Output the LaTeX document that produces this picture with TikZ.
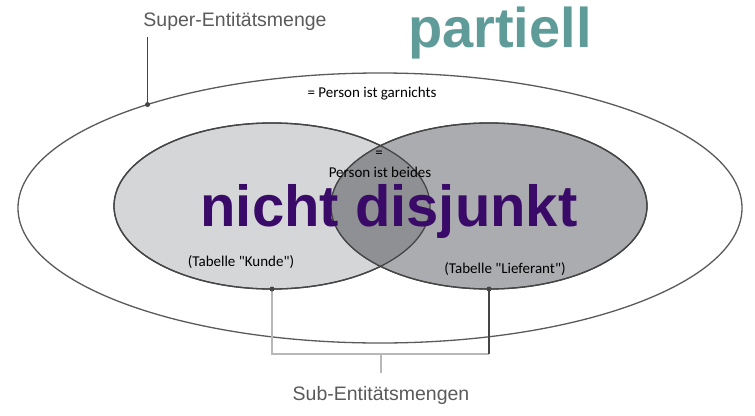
\documentclass[tikz,border=0pt]{standalone}
\usepackage{fontspec}
\setmainfont{Carlito}
\newfontfamily\arialfont{Liberation Sans}
\usetikzlibrary{shapes.geometric,positioning}

\definecolor{kundegray}{HTML}{D5D6D8}
\definecolor{liefergray}{HTML}{ABACAF}
\definecolor{beidegray}{HTML}{8F9094}
\definecolor{outline}{HTML}{454545}
\definecolor{outergray}{HTML}{5A5A5A}
\definecolor{capgray}{HTML}{5A5A5A}
\definecolor{bracketgray}{HTML}{B8B8B8}
\definecolor{disjunktpurple}{HTML}{3A0A68}
\definecolor{partielteal}{HTML}{5F9C99}

\begin{document}
\begin{tikzpicture}[x=1pt, y=-1pt,
    set/.style={ellipse, draw=outline, line width=1.3pt, inner sep=0pt, outer sep=0pt},
    lbl/.style={font=\fontsize{15}{18}\selectfont, anchor=base, inner sep=0pt},
    caption/.style={font=\arialfont\fontsize{19.5}{23}\selectfont, text=capgray, anchor=base, inner sep=0pt},
    big/.style={font=\arialfont\bfseries\fontsize{58}{60}\selectfont, anchor=base, inner sep=0pt},
    dot/.style={circle, fill=outline, inner sep=0pt, minimum size=5pt},
    lightline/.style={draw=bracketgray, line width=1.3pt},
    darkline/.style={draw=outline, line width=1.3pt}
]
\useasboundingbox (0,0) rectangle (755,415);

% Mengen
\node[set, draw=outergray, minimum width=724pt, minimum height=270pt] (super) at (380,208) {};
\node[set, fill=kundegray, minimum width=316pt, minimum height=166pt] (kunde) at (272,206) {};
\node[set, fill=liefergray, minimum width=316pt, minimum height=166pt] (lieferant) at (489,206) {};
\begin{scope}
  \clip (kunde.center) ellipse [x radius=158pt, y radius=83pt];
  \fill[beidegray] (lieferant.center) ellipse [x radius=158pt, y radius=83pt];
\end{scope}
\draw[darkline] (kunde.center) ellipse [x radius=158pt, y radius=83pt];
\draw[darkline] (lieferant.center) ellipse [x radius=158pt, y radius=83pt];

% Beschriftungen
\node[big, text=partielteal, font=\arialfont\bfseries\fontsize{56}{60}\selectfont] (partiell) at (500,47) {partiell};
\node[big, text=disjunktpurple] (disjunkt) at (389,226) {nicht disjunkt};
\node[lbl] (nichts) at (372,97) {= Person ist garnichts};
\node[lbl] (gleich) at (379,157) {=};
\node[lbl] (beides) at (380,177) {Person ist beides};
\node[lbl] (kundelbl) at (241,266) {(Tabelle \textquotedbl Kunde\textquotedbl)};
\node[lbl] (lieferlbl) at (505,273) {(Tabelle \textquotedbl Lieferant\textquotedbl)};

% Super-Entitaetsmenge
\node[caption] (superlbl) at (235,27) {Super-Entitätsmenge};
\coordinate (sdot) at (super.156.3);
\draw[outline, line width=1.1pt] ([yshift=-10pt]superlbl.base -| sdot) -- (sdot);
\node[dot] at (sdot) {};

% Sub-Entitaetsmengen
\node[caption] (sublbl) at (381,400) {Sub-Entitätsmengen};
\coordinate (bar) at (381,354);
\coordinate (stub) at (381,373);
\draw[lightline] (kunde.south) -- (kunde.south |- bar) -- (lieferant.south |- bar);
\draw[darkline] (lieferant.south) -- (lieferant.south |- bar);
\draw[lightline] (bar) -- (stub);
\node[dot] (kdot) at (kunde.south) {};
\node[dot] (ldot) at (lieferant.south) {};
\end{tikzpicture}
\end{document}
